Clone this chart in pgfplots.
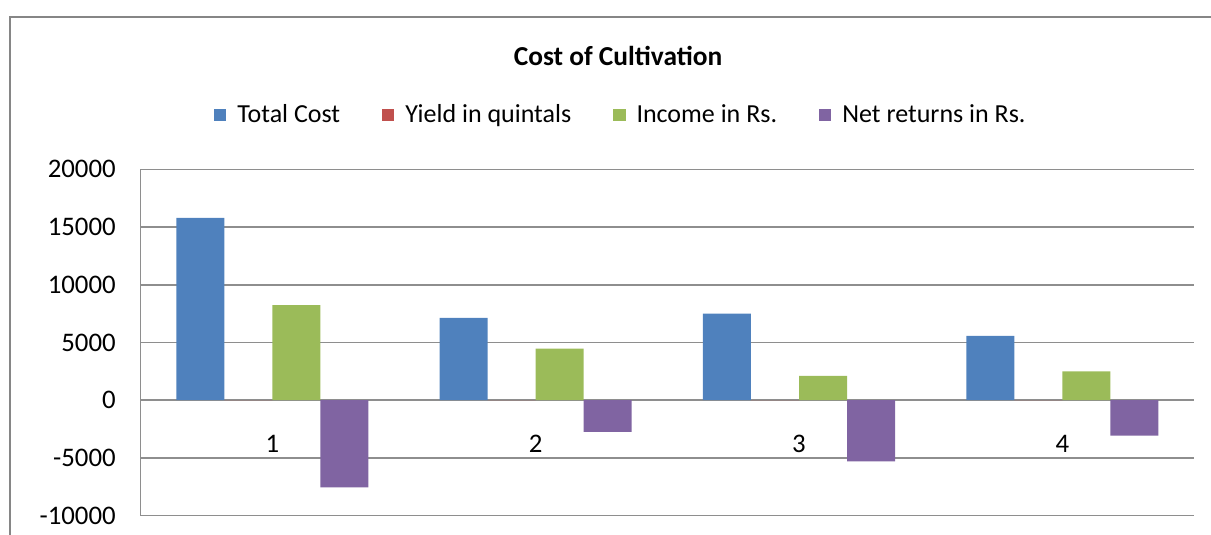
\documentclass[border=0pt]{standalone}
\usepackage{fontspec}
\setmainfont{Carlito}
\usepackage{pgfplots}
\pgfplotsset{compat=1.18}
\definecolor{CostBlue}{HTML}{4F81BD}
\definecolor{YieldRed}{HTML}{C0504D}
\definecolor{IncGreen}{HTML}{9BBB59}
\definecolor{NetPurple}{HTML}{8064A2}
\definecolor{GridGray}{HTML}{8E8E8E}
\definecolor{FrameGray}{HTML}{868686}

\begin{document}
\begin{tikzpicture}
  \begin{axis}[
    at={(0,0)},anchor=south west,
    scale only axis,width=526.65pt,height=173.2pt,
    ybar,bar width=0.1823,
    legend image code/.code={\fill[#1,draw=none] (0pt,-3.2pt) rectangle (6.4pt,3.2pt);},
    xmin=0.5,xmax=4.5,ymin=-10000,ymax=20000,
    xtick={1,2,3,4},ytick={-10000,-5000,...,20000},
    axis x line*=bottom,axis y line*=left,
    axis line style={draw=GridGray,line width=0.75pt},
    ymajorgrids=true,grid style={GridGray,line width=0.75pt},
    major tick length=0pt,
    scaled y ticks=false,
    /pgf/number format/.cd,1000 sep={},assume math mode=true,/pgfplots/.cd,
    yticklabel style={font=\fontsize{13.4}{16}\selectfont,inner sep=0pt,xshift=-12.3pt},
    xticklabel style={font=\fontsize{13.4}{16}\selectfont,anchor=center,yshift=35.8pt},
    legend columns=4,
    legend style={draw=none,fill=none,at={(0.4565,1.1567)},anchor=center,
      font=\fontsize{13}{15.6}\selectfont,
      /tikz/every odd column/.append style={column sep=3.5pt},
      /tikz/every even column/.append style={column sep=18.7pt}},
    clip=false,
  ]
    \addplot[fill=CostBlue,draw=none,bar shift=-0.2735]
      coordinates {(1,15800) (2,7140) (3,7490) (4,5580)};
    \addplot[fill=YieldRed,draw=none,bar shift=-0.0912]
      coordinates {(1,12) (2,8) (3,5) (4,6)};
    \addplot[fill=IncGreen,draw=none,bar shift=0.0912]
      coordinates {(1,8240) (2,4480) (3,2110) (4,2490)};
    \addplot[fill=NetPurple,draw=none,bar shift=0.2735]
      coordinates {(1,-7540) (2,-2750) (3,-5290) (4,-3060)};
    \legend{Total Cost,Yield in quintals,Income in Rs.,Net returns in Rs.}
    \node[font=\fontsize{13.7}{16.4}\selectfont\bfseries]
      at (rel axis cs:0.4532,1.3271) {Cost of Cultivation};
  \end{axis}
  \draw[FrameGray,line width=1pt] (-65.1pt,-20pt) -- (-65.1pt,249.35pt) -- (560pt,249.35pt);
  \pgfresetboundingbox
  \useasboundingbox (-70.35pt,-9.65pt) rectangle (535.15pt,257.85pt);
\end{tikzpicture}
\end{document}
